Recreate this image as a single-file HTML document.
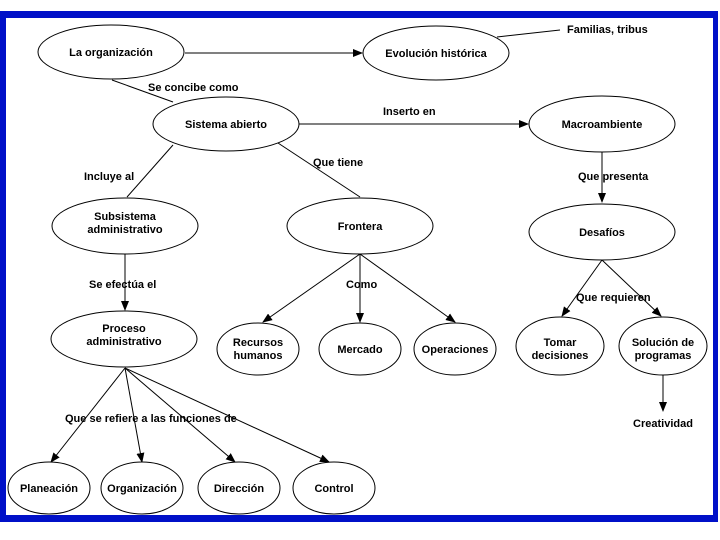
<!DOCTYPE html>
<html><head><meta charset="utf-8"><style>
html,body{margin:0;padding:0;background:#fff;}
svg{display:block;}
text{font-family:"Liberation Sans",Arial,sans-serif;font-weight:bold;font-size:11px;fill:#000;}
</style></head><body>
<svg width="720" height="540" viewBox="0 0 720 540" xmlns="http://www.w3.org/2000/svg">
<defs><marker id="a" markerWidth="10" markerHeight="8" refX="9" refY="4" orient="auto" markerUnits="userSpaceOnUse"><path d="M0,0 L10,4 L0,8 z" fill="#000"/></marker></defs>
<rect x="0" y="11" width="718" height="511" fill="#0010c8"/>
<rect x="6" y="18" width="707" height="497" fill="#fff"/>
<g stroke="#000" stroke-width="1" fill="none">
<line x1="185" y1="53" x2="362" y2="53" marker-end="url(#a)"/>
<line x1="112" y1="80" x2="173" y2="102"/>
<line x1="497" y1="37" x2="560" y2="30"/>
<line x1="299" y1="124" x2="528" y2="124" marker-end="url(#a)"/>
<line x1="173" y1="145" x2="127" y2="197"/>
<line x1="278" y1="143" x2="360" y2="197"/>
<line x1="125" y1="254" x2="125" y2="310" marker-end="url(#a)"/>
<line x1="360" y1="254" x2="263" y2="322" marker-end="url(#a)"/>
<line x1="360" y1="254" x2="360" y2="322" marker-end="url(#a)"/>
<line x1="360" y1="254" x2="455" y2="322" marker-end="url(#a)"/>
<line x1="602" y1="152" x2="602" y2="202" marker-end="url(#a)"/>
<line x1="602" y1="260" x2="562" y2="316" marker-end="url(#a)"/>
<line x1="602" y1="260" x2="661" y2="316" marker-end="url(#a)"/>
<line x1="663" y1="375" x2="663" y2="411" marker-end="url(#a)"/>
<line x1="125" y1="368" x2="51" y2="462" marker-end="url(#a)"/>
<line x1="125" y1="368" x2="142" y2="462" marker-end="url(#a)"/>
<line x1="125" y1="368" x2="235" y2="462" marker-end="url(#a)"/>
<line x1="125" y1="368" x2="329" y2="462" marker-end="url(#a)"/>
<ellipse cx="111" cy="52" rx="73" ry="27" fill="#fff"/>
<ellipse cx="436" cy="53" rx="73" ry="27" fill="#fff"/>
<ellipse cx="226" cy="124" rx="73" ry="27" fill="#fff"/>
<ellipse cx="602" cy="124" rx="73" ry="28" fill="#fff"/>
<ellipse cx="125" cy="226" rx="73" ry="28" fill="#fff"/>
<ellipse cx="360" cy="226" rx="73" ry="28" fill="#fff"/>
<ellipse cx="602" cy="232" rx="73" ry="28" fill="#fff"/>
<ellipse cx="124" cy="339" rx="73" ry="28" fill="#fff"/>
<ellipse cx="258" cy="349" rx="41" ry="26" fill="#fff"/>
<ellipse cx="360" cy="349" rx="41" ry="26" fill="#fff"/>
<ellipse cx="455" cy="349" rx="41" ry="26" fill="#fff"/>
<ellipse cx="560" cy="346" rx="44" ry="29" fill="#fff"/>
<ellipse cx="663" cy="346" rx="44" ry="29" fill="#fff"/>
<ellipse cx="49" cy="488" rx="41" ry="26" fill="#fff"/>
<ellipse cx="142" cy="488" rx="41" ry="26" fill="#fff"/>
<ellipse cx="239" cy="488" rx="41" ry="26" fill="#fff"/>
<ellipse cx="334" cy="488" rx="41" ry="26" fill="#fff"/>
</g>
<g text-anchor="middle">
<text x="111" y="56">La organización</text>
<text x="436" y="57">Evolución histórica</text>
<text x="226" y="128">Sistema abierto</text>
<text x="602" y="128">Macroambiente</text>
<text x="125" y="220">Subsistema</text>
<text x="125" y="233">administrativo</text>
<text x="360" y="230">Frontera</text>
<text x="602" y="236">Desafíos</text>
<text x="124" y="332">Proceso</text>
<text x="124" y="345">administrativo</text>
<text x="258" y="346">Recursos</text>
<text x="258" y="359">humanos</text>
<text x="360" y="353">Mercado</text>
<text x="455" y="353">Operaciones</text>
<text x="560" y="346">Tomar</text>
<text x="560" y="359">decisiones</text>
<text x="663" y="346">Solución de</text>
<text x="663" y="359">programas</text>
<text x="49" y="492">Planeación</text>
<text x="142" y="492">Organización</text>
<text x="239" y="492">Dirección</text>
<text x="334" y="492">Control</text>
<text x="663" y="427">Creatividad</text>
</g>
<text x="567" y="33">Familias, tribus</text>
<text x="148" y="91">Se concibe como</text>
<text x="383" y="115">Inserto en</text>
<text x="84" y="180">Incluye al</text>
<text x="313" y="166">Que tiene</text>
<text x="578" y="180">Que presenta</text>
<text x="89" y="288">Se efectúa el</text>
<text x="346" y="288">Como</text>
<text x="576" y="301">Que requieren</text>
<text x="65" y="422">Que se refiere a las funciones de</text>
</svg>
</body></html>
